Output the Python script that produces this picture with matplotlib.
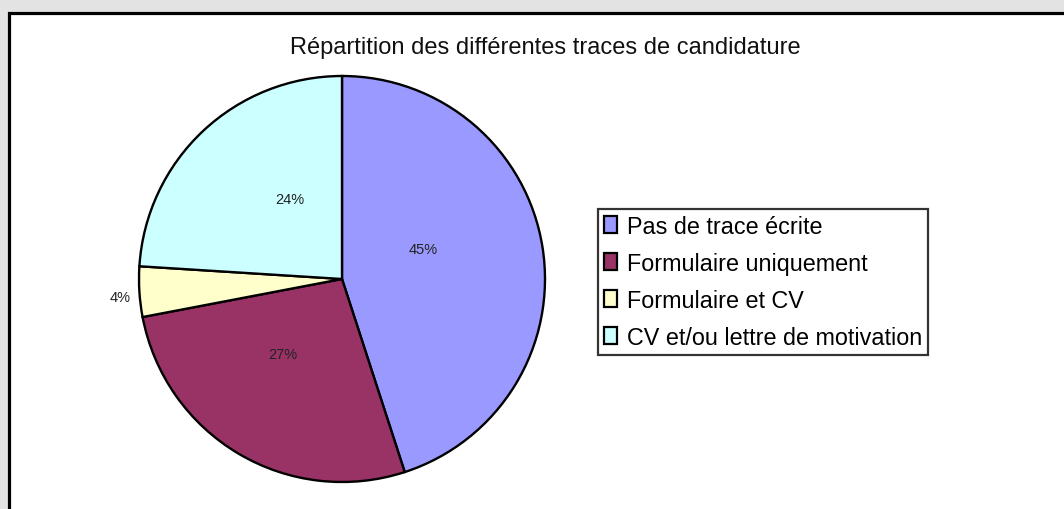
import matplotlib
matplotlib.use("Agg")
import matplotlib.pyplot as plt
from matplotlib.patches import Rectangle

plt.rcParams['font.family'] = ['Liberation Sans', 'DejaVu Sans']

title = "Répartition des différentes traces de candidature"
categories = ["Pas de trace écrite", "Formulaire uniquement", "Formulaire et CV",
              "CV et/ou lettre de motivation"]
values = [45, 27, 4, 24]
colors = ["#9999FF", "#993366", "#FFFFCC", "#CCFFFF"]

W, H = 1064, 510
fig = plt.figure(figsize=(W / 100, H / 100), dpi=100)
fig.patch.set_facecolor("#e3e3e3")

# white panel with black border (cropped at right/bottom)
fig.patches.append(Rectangle((8.5 / W, -0.1), 1.2, 1 - 13.5 / H + 0.1,
                             transform=fig.transFigure, facecolor="white",
                             edgecolor="black", linewidth=2.3, zorder=-5))

cx, cy, r = 342, 280, 203
ax = fig.add_axes([(cx - r) / W, (H - cy - r) / H, 2 * r / W, 2 * r / H])
ax.set_zorder(2)
ax.patch.set_visible(False)
wedges, texts, autotexts = ax.pie(values, colors=colors, startangle=90, counterclock=False,
                                  autopct=lambda p: f"{p:.0f}%", pctdistance=0.47,
                                  wedgeprops=dict(edgecolor="black", linewidth=1.7),
                                  textprops=dict(fontsize=10.5, color="#222222"))
ax.set_xlim(-1, 1)
ax.set_ylim(-1, 1)
ax.set_aspect("equal")
ax.axis("off")

# label positions (as in the reference)
label_pos = [(0.40, 0.148), (-0.29, -0.37), (-1.094, -0.089), (-0.256, 0.394)]
for t, p in zip(autotexts, label_pos):
    t.set_position(p)
    t.set_ha("center")
    t.set_va("center")

fig.text(545.5 / W, 1 - 48 / H, title, ha="center", va="center", fontsize=17, color="#111111")

leg = fig.legend(wedges, categories, loc="upper left",
                 bbox_to_anchor=(598 / W, 1 - 210 / H), fontsize=16.8,
                 frameon=True, fancybox=False, handlelength=0.55, handleheight=0.75,
                 handletextpad=0.45, labelspacing=0.6, borderpad=0.25,
                 borderaxespad=0)
leg.get_frame().set_edgecolor("black")
leg.get_frame().set_linewidth(1.6)
for h in leg.legend_handles:
    h.set_linewidth(1.6)

fig.savefig("out.png", dpi=100, facecolor=fig.get_facecolor())
